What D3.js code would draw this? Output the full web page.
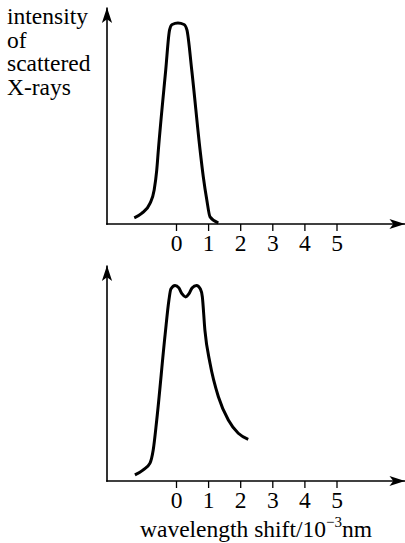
<!DOCTYPE html>
<html>
<head>
<meta charset="utf-8">
<script src="https://cdn.jsdelivr.net/npm/d3@7"></script>
<style>
  html, body { margin: 0; padding: 0; background: #fff; }
  svg { display: block; }
</style>
</head>
<body>
<div id="chart"></div>
<script>
// wavelength shift (10^-3 nm) and intensity (% of peak)
var topShift     = [-1.30, -1.07, -0.81, -0.68, -0.60, -0.55, -0.32, -0.20, -0.12, 0.06, 0.25, 0.34, 0.49, 0.75, 0.85, 0.96, 1.06, 1.32];
var topIntensity = [3.1, 5.3, 10.3, 17.0, 26.9, 36.9, 76.8, 96.8, 99.5, 100.2, 99.5, 96.8, 76.8, 36.9, 23.6, 12.0, 3.6, 0.6];

var bottomShift     = [-1.28, -1.03, -0.81, -0.71, -0.60, -0.34, -0.22, -0.16, -0.03, 0.09, 0.19, 0.30, 0.40, 0.50, 0.64, 0.76, 0.82, 0.90, 1.06, 1.32, 1.63, 1.94, 2.25];
var bottomIntensity = [3.1, 5.6, 9.2, 15.9, 31.3, 74.9, 92.8, 98.5, 100.3, 99.0, 95.9, 94.4, 95.9, 99.0, 100.3, 98.5, 94.5, 77.4, 60.4, 43.2, 31.3, 24.5, 21.4];

var xTicks = [0, 1, 2, 3, 4, 5];
var yLabelLines = ["intensity", "of", "scattered", "X-rays"];
var xLabel = "wavelength shift/10";
var xLabelSup = "\u22123";
var xLabelUnit = "nm";

var width = 405, height = 543;
var font = "'Liberation Serif', 'Times New Roman', serif";
var originX = 107;

var svg = d3.select("#chart").append("svg")
    .attr("width", width)
    .attr("height", height);

svg.append("defs").append("marker")
    .attr("id", "arrow")
    .attr("markerUnits", "userSpaceOnUse")
    .attr("markerWidth", 20)
    .attr("markerHeight", 20)
    .attr("viewBox", "-16 -8 18 16")
    .attr("refX", 0)
    .attr("refY", 0)
    .attr("orient", "auto")
    .append("path")
    .attr("d", "M0,0 L-14,-4.6 L-10.5,0 L-14,4.6 Z")
    .attr("fill", "#000");

var x = d3.scaleLinear().domain([0, 5]).range([176, 336.5]);

function drawPanel(axisY, peakY, arrowTop, shift, intensity){
    var y = d3.scaleLinear().domain([0, 100]).range([axisY, peakY]);
    var g = svg.append("g");

    // vertical axis with arrow
    g.append("line")
        .attr("x1", originX).attr("x2", originX)
        .attr("y1", axisY + 0.8).attr("y2", arrowTop)
        .attr("stroke", "#000")
        .attr("stroke-width", 1.6)
        .attr("marker-end", "url(#arrow)");

    // horizontal axis with arrow
    g.append("line")
        .attr("x1", originX - 0.8).attr("x2", width)
        .attr("y1", axisY).attr("y2", axisY)
        .attr("stroke", "#000")
        .attr("stroke-width", 1.6)
        .attr("marker-end", "url(#arrow)");

    var ax = g.append("g")
        .attr("transform", "translate(0," + axisY + ")")
        .call(d3.axisBottom(x).tickValues(xTicks).tickSize(7).tickFormat(d3.format("d")));
    ax.select(".domain").remove();
    ax.selectAll(".tick line").attr("stroke-width", 1.3);
    ax.selectAll(".tick text")
        .attr("y", 26.5)
        .attr("dy", null)
        .style("font-family", font)
        .style("font-size", "23.5px")
        .attr("fill", "#000");

    var pts = shift.map(function(d, i){ return [d, intensity[i]]; });
    var line = d3.line()
        .x(function(d){ return x(d[0]); })
        .y(function(d){ return y(d[1]); })
        .curve(d3.curveMonotoneX);

    g.append("path")
        .datum(pts)
        .attr("d", line)
        .attr("fill", "none")
        .attr("stroke", "#000")
        .attr("stroke-width", 3)
        .attr("stroke-linejoin", "round")
        .attr("stroke-linecap", "butt");
}

drawPanel(224, 23.5, 7.5, topShift, topIntensity);
drawPanel(481, 286, 265.5, bottomShift, bottomIntensity);

// y axis label
var yl = svg.append("text")
    .style("font-family", font)
    .style("font-size", "23.5px")
    .attr("fill", "#000");
yl.selectAll("tspan")
    .data(yLabelLines)
    .enter().append("tspan")
    .attr("x", 7)
    .attr("y", function(d, i){ return 24 + i * 23.7; })
    .text(function(d){ return d; });

// x axis label
var xl = svg.append("text")
    .attr("x", 256)
    .attr("y", 537)
    .attr("text-anchor", "middle")
    .style("font-family", font)
    .style("font-size", "23.5px")
    .attr("fill", "#000");
xl.append("tspan").text(xLabel);
xl.append("tspan").attr("dy", -10.5).style("font-size", "15px").text(xLabelSup);
xl.append("tspan").attr("dy", 10.5).text(xLabelUnit);
</script>
</body>
</html>
